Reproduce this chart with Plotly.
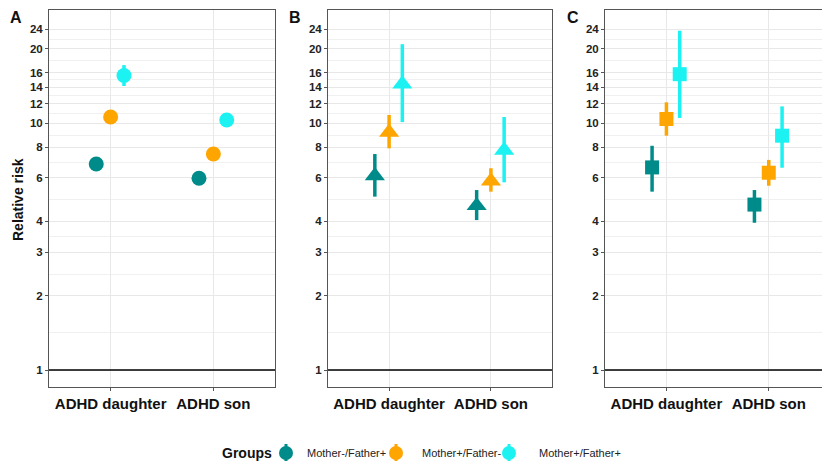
import plotly.graph_objects as go

categories = ["ADHD daughter", "ADHD son"]
groups = ["Mother-/Father+", "Mother+/Father-", "Mother+/Father+"]
colors = ["#008B8B", "#FFA500", "#1CF2F2"]
dodge = [-0.14, 0.0, 0.13]

# Panel A (circles)
a_rr = [[6.83, 5.98], [10.6, 7.5], [15.6, 10.3]]
a_lo = [[6.45, 5.65], [10.0, 7.1], [14.15, 9.75]]
a_hi = [[7.2, 6.3], [11.2, 7.9], [17.2, 10.9]]

# Panel B (triangles)
b_rr = [[6.12, 4.63], [9.18, 5.83], [14.4, 7.77]]
b_lo = [[5.04, 4.05], [7.91, 5.28], [10.1, 5.76]]
b_hi = [[7.5, 5.36], [10.8, 6.57], [20.9, 10.6]]

# Panel C (squares)
c_rr = [[6.62, 4.68], [10.4, 6.30], [15.8, 8.9]]
c_lo = [[5.28, 3.95], [8.9, 5.58], [10.5, 6.6]]
c_hi = [[8.1, 5.36], [12.15, 7.1], [23.7, 11.7]]

y_ticks = [1, 2, 3, 4, 6, 8, 10, 12, 14, 16, 20, 24]
y_minor = [1.414, 2.449, 3.464, 4.899, 6.928, 8.944, 10.954, 12.961, 14.967, 17.889, 21.909]

W, H = 822, 461

panels = [
    ("x", "y", a_rr, a_lo, a_hi, "circle", 15),
    ("x2", "y2", b_rr, b_lo, b_hi, "triangle-up", 17.5),
    ("x3", "y3", c_rr, c_lo, c_hi, "square", 14),
]

fig = go.Figure()
for xa, ya, rr, lo, hi, sym, sz in panels:
    for g in range(3):
        xs = [i + 1 + dodge[g] for i in range(len(categories))]
        fig.add_trace(go.Scatter(
            x=xs, y=rr[g], xaxis=xa, yaxis=ya, mode="markers",
            marker=dict(symbol=sym, size=sz, color=colors[g], line=dict(width=0)),
            error_y=dict(type="data", symmetric=False,
                         array=[h - r for h, r in zip(hi[g], rr[g])],
                         arrayminus=[r - l for r, l in zip(rr[g], lo[g])],
                         color=colors[g], thickness=3.5, width=0),
            showlegend=False, hoverinfo="skip"))

# manual legend (bottom strip in pixel coordinates)
leg_marker_x = [286, 396, 509]
leg_text_x = [305, 420, 537]
leg_y = 8
for g in range(3):
    fig.add_trace(go.Scatter(
        x=[leg_marker_x[g]], y=[leg_y], xaxis="x4", yaxis="y4", mode="markers",
        marker=dict(symbol="circle", size=14, color=colors[g]),
        error_y=dict(type="constant", value=9, color=colors[g], thickness=3, width=0),
        showlegend=False, hoverinfo="skip"))

ydom = [1 - 387 / H, 1 - 10 / H]
xdoms = [[49 / W, 275 / W], [328 / W, 552 / W], [605 / W, 1.0]]
xranges = [[0.4, 2.6], [0.4, 2.6], [0.4, 2.52]]

lay = dict(
    width=W, height=H, margin=dict(l=0, r=0, t=0, b=0),
    paper_bgcolor="white", plot_bgcolor="white",
    font=dict(family="Liberation Sans"),
    showlegend=False,
    xaxis4=dict(domain=[0, 1], range=[0, W], anchor="y4", visible=False, fixedrange=True),
    yaxis4=dict(domain=[0, 30 / H], range=[0, 30], anchor="x4", visible=False, fixedrange=True),
)
for k in range(3):
    sx = "" if k == 0 else str(k + 1)
    lay["xaxis" + sx] = dict(
        domain=xdoms[k], range=xranges[k], anchor="y" + sx,
        tickmode="array", tickvals=[1, 2],
        ticktext=["<b>%s</b>" % c for c in categories],
        tickfont=dict(family="Liberation Sans", size=15, color="#111"),
        showgrid=True, gridcolor="#E8E8E8", gridwidth=1, zeroline=False,
        showline=True, mirror=True, linecolor="#555", linewidth=1,
        ticks="outside", ticklen=3, tickcolor="#555")
    lay["yaxis" + sx] = dict(
        domain=ydom, type="log", range=[-0.0689, 1.4587], anchor="x" + sx,
        tickmode="array", tickvals=y_ticks,
        ticktext=["<b>%d</b>" % v for v in y_ticks],
        tickfont=dict(family="Liberation Sans", size=11.5, color="#222"),
        showgrid=True, gridcolor="#E8E8E8", gridwidth=1, zeroline=False,
        minor=dict(tickmode="array", tickvals=y_minor, showgrid=True,
                   gridcolor="#F0F0F0", gridwidth=1, ticks=""),
        showline=True, mirror=(k < 2), linecolor="#555", linewidth=1,
        ticks="outside", ticklen=3, tickcolor="#555")
fig.update_layout(**lay)

shapes = []
for k in range(3):
    sx = "" if k == 0 else str(k + 1)
    shapes.append(dict(type="line", xref="x%s domain" % sx, yref="y" + sx,
                       x0=0, x1=1, y0=1, y1=1, line=dict(color="black", width=1.3)))
fig.update_layout(shapes=shapes)

ann = []
for lbl, px in [("A", 16), ("B", 295), ("C", 573)]:
    ann.append(dict(text="<b>%s</b>" % lbl, x=px / W, y=1 - 18 / H, xref="paper", yref="paper",
                    showarrow=False, font=dict(size=16, color="#111"), xanchor="center", yanchor="middle"))
ann.append(dict(text="<b>Relative risk</b>", x=18 / W, y=1 - 200 / H, xref="paper", yref="paper",
                showarrow=False, textangle=-90, font=dict(size=14, color="#111"),
                xanchor="center", yanchor="middle"))
ann.append(dict(text="<b>Groups</b>", x=220 / W, y=leg_y / H, xref="paper", yref="paper",
                showarrow=False, font=dict(size=14, color="#111"), xanchor="left", yanchor="middle"))
for g in range(3):
    ann.append(dict(text=groups[g], x=leg_text_x[g] / W, y=leg_y / H, xref="paper", yref="paper",
                    showarrow=False, font=dict(size=11, color="#222"), xanchor="left", yanchor="middle"))
fig.update_layout(annotations=ann)

fig.write_html("out.html")
